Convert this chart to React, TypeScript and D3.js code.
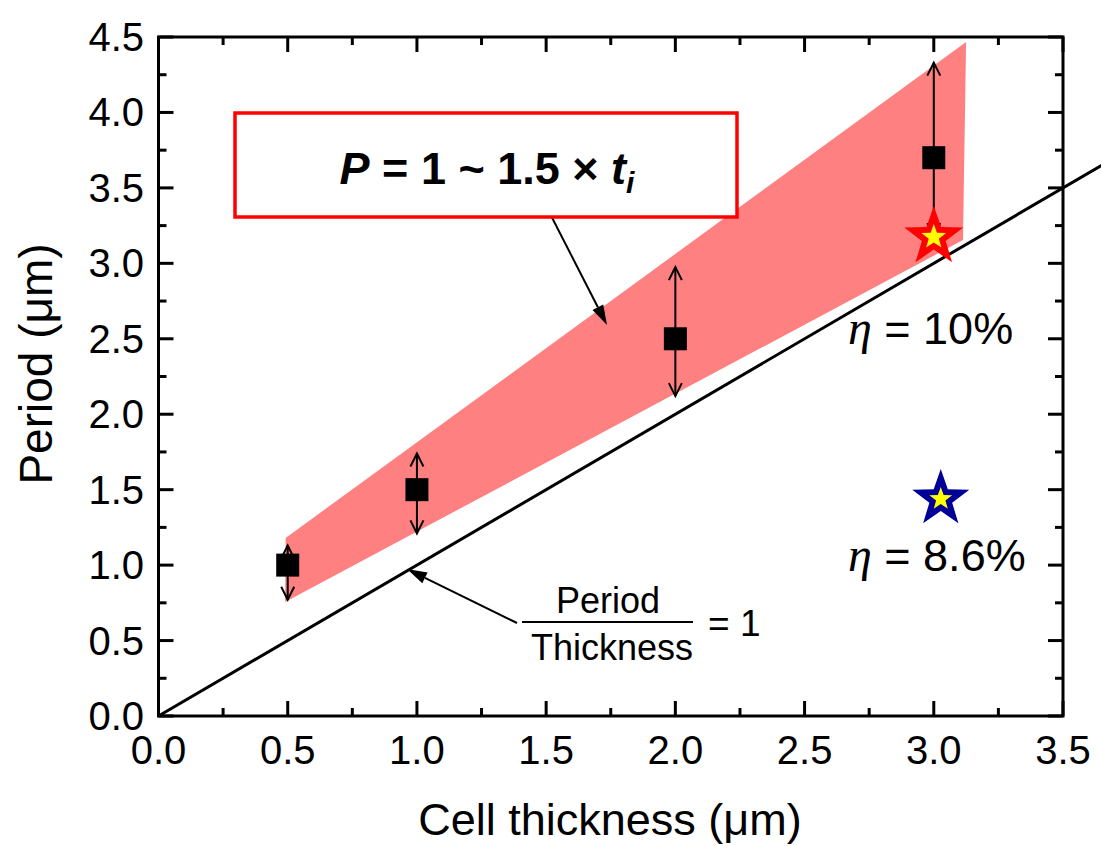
import React from "react";
import * as d3 from "d3";

const xTickLabels = ["0.0", "0.5", "1.0", "1.5", "2.0", "2.5", "3.0", "3.5"];
const yTickLabels = ["0.0", "0.5", "1.0", "1.5", "2.0", "2.5", "3.0", "3.5", "4.0", "4.5"];
const xMajor = [0, 0.5, 1, 1.5, 2, 2.5, 3, 3.5];
const yMajor = [0, 0.5, 1, 1.5, 2, 2.5, 3, 3.5, 4, 4.5];
const xMinor = [0.25, 0.75, 1.25, 1.75, 2.25, 2.75, 3.25];
const yMinor = [0.25, 0.75, 1.25, 1.75, 2.25, 2.75, 3.25, 3.75, 4.25];

// measured data
const thickness = [0.5, 1.0, 2.0, 3.0];
const period = [1.0, 1.5, 2.5, 3.7];
const periodUpper = [1.13, 1.74, 2.975, 4.33];
const periodLower = [0.77, 1.21, 2.12, 3.18];

// shaded band polygon (x, y)
const bandX = [0.492, 3.125, 3.113, 0.49];
const bandY = [1.18, 4.467, 3.154, 0.756];

// period / thickness = 1 line
const unityX = [0, 3.8];
const unityY = [0, 3.8];

// stars
const redStar = { x: 3.0, y: 3.174 };
const blueStar = { x: 3.027, y: 1.438 };

const W = 1101;
const H = 846;
const x = d3.scaleLinear().domain([0, 3.5]).range([158.5, 1063]);
const y = d3.scaleLinear().domain([0, 4.5]).range([716, 37]);

const SANS = "'Liberation Sans', Arial, Helvetica, sans-serif";
const SERIF = "'Liberation Serif', 'Times New Roman', serif";

function starPath(cx: number, cy: number, R: number, r: number) {
  const pts: [number, number][] = [];
  for (let i = 0; i < 10; i++) {
    const ang = -Math.PI / 2 + (i * Math.PI) / 5;
    const rad = i % 2 === 0 ? R : r;
    pts.push([cx + rad * Math.cos(ang), cy + rad * Math.sin(ang)]);
  }
  return "M" + pts.map((p) => p.join(",")).join("L") + "Z";
}

function openHead(xp: number, yp: number, dir: number) {
  const L = 13, w = 6.5;
  return `M${xp - w},${yp - dir * L}L${xp},${yp}L${xp + w},${yp - dir * L}`;
}

function filledArrow(x1: number, y1: number, x2: number, y2: number) {
  const ang = Math.atan2(y2 - y1, x2 - x1);
  const L = 20, w = 6;
  const bx = x2 - L * Math.cos(ang);
  const by = y2 - L * Math.sin(ang);
  const px = -Math.sin(ang) * w;
  const py = Math.cos(ang) * w;
  return (
    <g>
      <line x1={x1} y1={y1} x2={bx} y2={by} stroke="#000" strokeWidth={2} />
      <path d={`M${x2},${y2}L${bx + px},${by + py}L${bx - px},${by - py}Z`} fill="#000" />
    </g>
  );
}

export default function App() {
  const x0 = x(0), x1 = x(3.5), y0 = y(0), y1 = y(4.5);
  const line = d3.line<number>().x((_, i) => x(unityX[i])).y((_, i) => y(unityY[i]));
  const band = d3.line<number>().x((_, i) => x(bandX[i])).y((_, i) => y(bandY[i]));
  const sq = 23;
  return (
    <div style={{ position: "absolute", left: 0, top: 0 }}>
      <svg width={W} height={H} style={{ display: "block", background: "#fff" }}>
        <rect width={W} height={H} fill="#fff" />
        <path d={band(bandX)! + "Z"} fill="#FF8080" />
        <path d={line(unityX)!} stroke="#000" strokeWidth={3} fill="none" />

        {thickness.map((t, i) => {
          const xp = x(t);
          const yu = y(periodUpper[i]);
          const yl = y(periodLower[i]);
          return (
            <g key={"e" + i} stroke="#000" strokeWidth={2} fill="none">
              <line x1={xp} y1={yu} x2={xp} y2={yl} />
              <path d={openHead(xp, yu, -1)} />
              <path d={openHead(xp, yl, 1)} />
            </g>
          );
        })}
        {thickness.map((t, i) => (
          <rect key={"s" + i} x={x(t) - sq / 2} y={y(period[i]) - sq / 2} width={sq} height={sq} fill="#000" />
        ))}

        <path d={starPath(x(redStar.x), y(redStar.y), 31, 12.5)} fill="#FF0000" />
        <path d={starPath(x(redStar.x), y(redStar.y), 13, 5.3)} fill="#FFFF00" />
        <path d={starPath(x(blueStar.x), y(blueStar.y), 30, 12)} fill="#000099" />
        <path d={starPath(x(blueStar.x), y(blueStar.y), 12, 4.9)} fill="#FFFF00" />

        {filledArrow(543, 200, 607, 325)}
        <rect x={235} y={113} width={502} height={104} fill="#fff" stroke="#FF0000" strokeWidth={3.5} />
        <text x={487} y={184} textAnchor="middle" fontFamily={SANS} fontWeight="bold" fontSize={45}>
          <tspan fontStyle="italic">P</tspan>
          <tspan> = 1 ~ 1.5 × </tspan>
          <tspan fontStyle="italic">t</tspan>
          <tspan fontStyle="italic" fontSize={30} dy={9}>i</tspan>
        </text>

        <text x={848} y={344} fontFamily={SANS} fontSize={45}>
          <tspan fontFamily={SERIF} fontStyle="italic" fontSize={48}>η</tspan>
          <tspan> = 10%</tspan>
        </text>
        <text x={848} y={571} fontFamily={SANS} fontSize={45}>
          <tspan fontFamily={SERIF} fontStyle="italic" fontSize={48}>η</tspan>
          <tspan> = 8.6%</tspan>
        </text>

        {filledArrow(517, 623, 407, 569)}
        <text x={608} y={613} textAnchor="middle" fontFamily={SANS} fontSize={36}>Period</text>
        <line x1={522} y1={622} x2={693} y2={622} stroke="#000" strokeWidth={2} />
        <text x={612} y={660} textAnchor="middle" fontFamily={SANS} fontSize={36}>Thickness</text>
        <text x={708} y={636} fontFamily={SANS} fontSize={37}>= 1</text>

        <rect x={x0} y={y1} width={x1 - x0} height={y0 - y1} fill="none" stroke="#000" strokeWidth={3} />
        <g stroke="#000" strokeWidth={3}>
          {xMajor.map((v) => (
            <g key={"xm" + v}>
              <line x1={x(v)} x2={x(v)} y1={y0} y2={y0 - 15} />
              <line x1={x(v)} x2={x(v)} y1={y1} y2={y1 + 15} />
            </g>
          ))}
          {xMinor.map((v) => (
            <g key={"xn" + v}>
              <line x1={x(v)} x2={x(v)} y1={y0} y2={y0 - 8} />
              <line x1={x(v)} x2={x(v)} y1={y1} y2={y1 + 8} />
            </g>
          ))}
          {yMajor.map((v) => (
            <g key={"ym" + v}>
              <line x1={x0} x2={x0 + 15} y1={y(v)} y2={y(v)} />
              <line x1={x1} x2={x1 - 15} y1={y(v)} y2={y(v)} />
            </g>
          ))}
          {yMinor.map((v) => (
            <g key={"yn" + v}>
              <line x1={x0} x2={x0 + 8} y1={y(v)} y2={y(v)} />
              <line x1={x1} x2={x1 - 8} y1={y(v)} y2={y(v)} />
            </g>
          ))}
        </g>
        {xMajor.map((v, i) => (
          <text key={"xl" + v} x={x(v)} y={764} textAnchor="middle" fontFamily={SANS} fontSize={40}>
            {xTickLabels[i]}
          </text>
        ))}
        {yMajor.map((v, i) => (
          <text key={"yl" + v} x={144} y={y(v) + 14} textAnchor="end" fontFamily={SANS} fontSize={40}>
            {yTickLabels[i]}
          </text>
        ))}
        <text x={610} y={835} textAnchor="middle" fontFamily={SANS} fontSize={45}>
          Cell thickness (μm)
        </text>
        <text transform="translate(52,364) rotate(-90)" textAnchor="middle" fontFamily={SANS} fontSize={46}>
          Period (μm)
        </text>
      </svg>
    </div>
  );
}
